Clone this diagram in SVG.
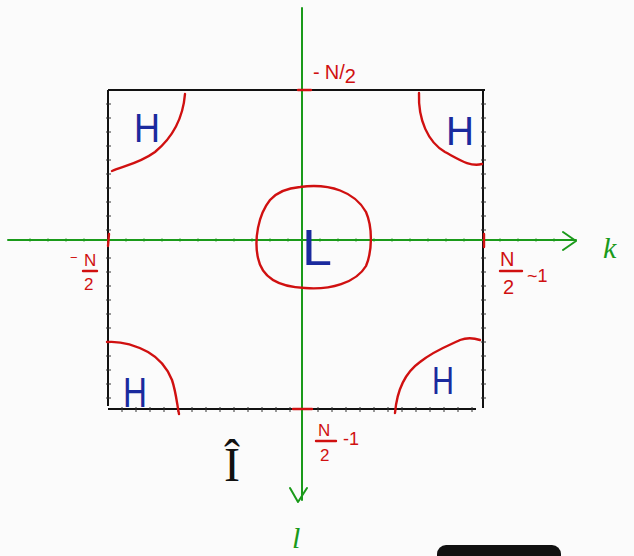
<svg xmlns="http://www.w3.org/2000/svg" width="634" height="556" viewBox="0 0 634 556">
<style>
.ax{stroke:#1a9a1a;stroke-width:2;fill:none;stroke-linecap:round;stroke-linejoin:round}
.bx{stroke:#111;stroke-width:2;fill:none}
.tk{stroke:#333;stroke-width:1}
.gt{stroke:#1a9a1a;stroke-width:1;opacity:0.6}
.rd{stroke:#d01010;stroke-width:2.4;fill:none;stroke-linecap:round;stroke-linejoin:round}
.rt{fill:#d01010;font-family:"Liberation Sans",sans-serif}
.bl{fill:#1a2a9e;font-family:"Liberation Sans",sans-serif}
.gr{fill:#1a9a1a;font-family:"Liberation Serif",serif;font-style:italic}
</style>
<rect width="634" height="556" fill="#fbfbfb"/>
<g id="box">
<path class="bx" d="M108,90 H485 M108,90 V406 M108,409 H476 M483,90 V408"/>
<path class="tk" d="M106,104h5M106,118h5M106,132h5M106,146h5M106,160h5M106,174h5M106,188h5M106,202h5M106,216h5M106,230h5M106,258h5M106,272h5M106,286h5M106,300h5M106,314h5M106,328h5M106,342h5M106,356h5M106,370h5M106,384h5M106,398h5"/>
<path class="tk" d="M481,104h5M481,118h5M481,132h5M481,146h5M481,160h5M481,174h5M481,188h5M481,202h5M481,216h5M481,230h5M481,258h5M481,272h5M481,286h5M481,300h5M481,314h5M481,328h5M481,342h5M481,356h5M481,370h5M481,384h5M481,398h5"/>
<path class="tk" d="M122,407v5M136,407v5M150,407v5M164,407v5M178,407v5M192,407v5M206,407v5M220,407v5M234,407v5M248,407v5M262,407v5M276,407v5M290,407v5M318,407v5M332,407v5M346,407v5M360,407v5M374,407v5M388,407v5M402,407v5M416,407v5M430,407v5M444,407v5M458,407v5M472,407v5"/>
</g>
<g id="axes">
<path class="ax" d="M8,240 H576 M563,232 L576,241 L563,250"/>
<path class="ax" d="M302,8 V500 M290,488 L298,502 L307,488"/>
<path class="gt" d="M30,238v4M48,238v4M66,238v4M84,238v4M126,238v4M144,238v4M162,238v4M180,238v4M198,238v4M216,238v4M234,238v4M252,238v4M270,238v4M288,238v4M320,238v4M338,238v4M356,238v4M374,238v4M392,238v4M410,238v4M428,238v4M446,238v4M464,238v4M500,238v4M518,238v4M536,238v4M554,238v4"/>
<text class="gr" x="603" y="258" font-size="30">k</text>
<text class="gr" x="292" y="548" font-size="30">l</text>
</g>
<g id="red-marks">
<path class="rd" d="M109,234 L108,246 M484,234 L484,247 M298,90 H311 M293,409 H312"/>
<path id="circle" class="rd" d="M300,187 C330,183 355,192 366,212 C373,228 372,252 366,266 C356,283 330,290 305,288 C280,287 262,278 258,258 C254,240 258,215 270,200 C278,191 288,188 300,187 Z"/>
<path class="rd" d="M185,94 C183,118 172,138 155,152 C140,163 124,166 112,171"/>
<path class="rd" d="M419,93 C418,120 428,142 445,152 C460,160 470,167 482,164"/>
<path class="rd" d="M107,342 C120,341 133,344 148,352 C162,360 168,370 172,380 C176,392 177,404 179,414"/>
<path class="rd" d="M395,413 C397,390 406,372 420,362 C435,350 450,345 460,340 C468,337 474,338 480,340"/>
</g>
<g id="H-top-left"><text class="bl" x="134" y="142" font-size="40" textLength="26" lengthAdjust="spacingAndGlyphs">H</text></g>
<g id="H-top-right"><text class="bl" x="446" y="145" font-size="40" textLength="28" lengthAdjust="spacingAndGlyphs">H</text></g>
<g id="H-bottom-left"><text class="bl" x="123" y="407" font-size="42" textLength="24" lengthAdjust="spacingAndGlyphs">H</text></g>
<g id="H-bottom-right"><text class="bl" x="432" y="394" font-size="38" textLength="22" lengthAdjust="spacingAndGlyphs">H</text></g>
<g id="L"><text class="bl" x="302" y="265" font-size="50" textLength="30" lengthAdjust="spacingAndGlyphs">L</text></g>
<g id="labels">
<text class="rt" x="313" y="79" font-size="20">-<tspan dx="5">N</tspan><tspan>/</tspan><tspan dy="4">2</tspan></text>
<g id="left-label">
<text class="rt" x="70" y="262" font-size="13">−</text>
<text class="rt" x="84" y="266" font-size="17">N</text>
<path class="rd" d="M83,271 H97" stroke-width="2"/>
<text class="rt" x="84" y="290" font-size="17">2</text>
</g>
<g id="right-label">
<text class="rt" x="500" y="266" font-size="20">N</text>
<path class="rd" d="M500,271 H522" stroke-width="2"/>
<text class="rt" x="503" y="294" font-size="20">2</text>
<text class="rt" x="527" y="282" font-size="18">~1</text>
</g>
<g id="bottom-label">
<text class="rt" x="318" y="436" font-size="17">N</text>
<path class="rd" d="M316,441 H336" stroke-width="2"/>
<text class="rt" x="320" y="461" font-size="17">2</text>
<text class="rt" x="343" y="445" font-size="18">-1</text>
</g>
<text x="224" y="481" font-family="Liberation Serif,serif" font-size="48" fill="#111">Î</text>
</g>
<rect x="437" y="545" width="124" height="24" rx="9" fill="#111"/>
</svg>
